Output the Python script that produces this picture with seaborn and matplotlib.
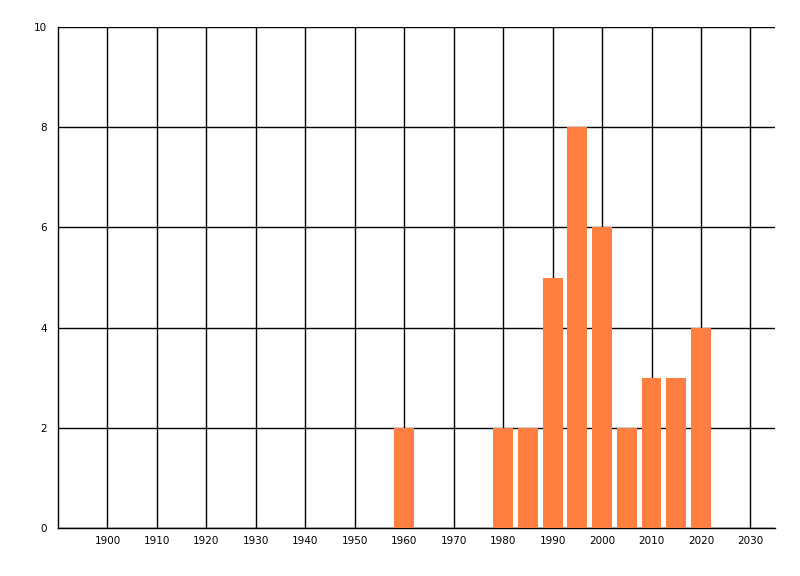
import matplotlib
matplotlib.use("Agg")
import matplotlib.pyplot as plt
import seaborn as sns

years = [1960, 1980, 1985, 1990, 1995, 2000, 2005, 2010, 2015, 2020]
counts = [2, 2, 2, 5, 8, 6, 2, 3, 3, 4]
x_ticks = list(range(1900, 2031, 10))
y_ticks = list(range(0, 11, 2))

sns.set_style("white")
plt.rcParams['font.family'] = ['DejaVu Sans']
plt.rcParams['text.color'] = 'black'
plt.rcParams['xtick.color'] = 'black'
plt.rcParams['ytick.color'] = 'black'

fig = plt.figure(figsize=(8.0, 5.76), dpi=100)
ax = fig.add_axes([0.0725, 0.0833, 0.8965, 0.8697])

sns.barplot(x=years, y=counts, native_scale=True, width=0.8,
            color="#FF7F41", saturation=1, linewidth=0, ax=ax, zorder=3)

ax.set_xlim(1890, 2035)
ax.set_ylim(0, 10)
ax.set_xticks(x_ticks)
ax.set_yticks(y_ticks)
ax.set_xticklabels([str(t) for t in x_ticks], fontsize=7.5)
ax.set_yticklabels([str(t) for t in y_ticks], fontsize=7.5)
ax.grid(True, color="black", linewidth=1)
ax.set_axisbelow(True)
ax.tick_params(axis="y", length=6, width=1, color="black", labelcolor="black", pad=2)
ax.tick_params(axis="x", length=0, labelcolor="black", pad=6)
for side in ["top", "right"]:
    ax.spines[side].set_visible(False)
for side in ["left", "bottom"]:
    ax.spines[side].set_color("black")
    ax.spines[side].set_linewidth(1)
ax.set_xlabel("")
ax.set_ylabel("")

fig.savefig("out.png", dpi=100)
